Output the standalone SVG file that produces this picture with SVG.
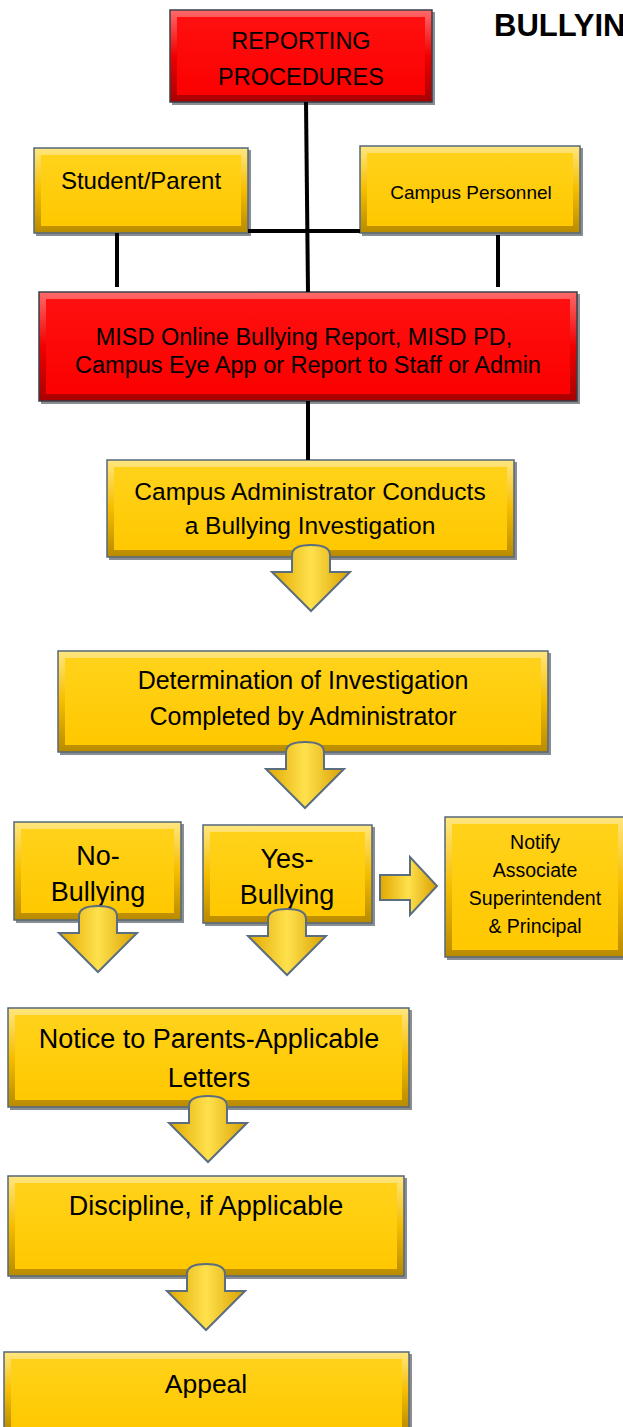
<svg xmlns="http://www.w3.org/2000/svg" width="623" height="1427" viewBox="0 0 623 1427">
<style>
text{font-family:"Liberation Sans",Arial,sans-serif;fill:#000;text-anchor:middle}
.sh{fill:#2a2f36;opacity:.55}
.go{fill:url(#gOut);stroke:#56687a;stroke-width:1.5}
.gi{fill:url(#gIn)}
.ro{fill:url(#rOut);stroke:#3a3f48;stroke-width:1.5}
.ri{fill:url(#rIn)}
.ln{stroke:#000;stroke-width:4;fill:none}
.ar{fill:url(#aG);stroke:#5b6e80;stroke-width:2;stroke-linejoin:miter}
</style>
<defs>
<linearGradient id="gOut" x1="0" y1="0" x2="0" y2="1"><stop offset="0" stop-color="#ffe680"/><stop offset="0.5" stop-color="#f5bd00"/><stop offset="1" stop-color="#b88a00"/></linearGradient>
<linearGradient id="gIn" x1="0" y1="0" x2="0" y2="1"><stop offset="0" stop-color="#ffd21a"/><stop offset="1" stop-color="#ffc800"/></linearGradient>
<linearGradient id="rOut" x1="0" y1="0" x2="0" y2="1"><stop offset="0" stop-color="#ff6a6a"/><stop offset="0.5" stop-color="#f00000"/><stop offset="1" stop-color="#a80000"/></linearGradient>
<linearGradient id="rIn" x1="0" y1="0" x2="0" y2="1"><stop offset="0" stop-color="#ff1010"/><stop offset="1" stop-color="#fb0000"/></linearGradient>
<linearGradient id="aG" x1="0" y1="0" x2="1" y2="0"><stop offset="0" stop-color="#e0a800"/><stop offset="0.5" stop-color="#ffe14d"/><stop offset="1" stop-color="#d9a000"/></linearGradient>
<path id="dn" d="M-19,10 Q-19,0 0,0 Q19,0 19,10 L19,27 L39,27 L0,66 L-39,27 L-19,27 Z"/>
</defs>

<text x="494" y="36" style="text-anchor:start;font-weight:bold;font-size:31px">BULLYING</text>

<g id="n-reporting">
<rect class="sh" x="172" y="12" width="263" height="93"/>
<rect class="ro" x="170" y="10" width="262" height="92"/>
<rect class="ri" x="177" y="17" width="248" height="78"/>
<text x="301" y="49" font-size="23.5">REPORTING</text>
<text x="301" y="85" font-size="23.5">PROCEDURES</text>
</g>

<g id="n-student">
<rect class="sh" x="36" y="150" width="215" height="86"/>
<rect class="go" x="34" y="148" width="214" height="85"/>
<rect class="gi" x="41" y="155" width="200" height="71"/>
<text x="141" y="189" font-size="24">Student/Parent</text>
</g>

<g id="n-personnel">
<rect class="sh" x="362" y="148" width="221" height="88"/>
<rect class="go" x="360" y="146" width="220" height="87"/>
<rect class="gi" x="367" y="153" width="206" height="73"/>
<text x="471" y="199" font-size="19">Campus Personnel</text>
</g>

<g id="n-misd">
<rect class="sh" x="41" y="294" width="539" height="110"/>
<rect class="ro" x="39" y="292" width="538" height="109"/>
<rect class="ri" x="46" y="299" width="524" height="95"/>
<text x="304" y="345" font-size="23.5">MISD Online Bullying Report, MISD PD,</text>
<text x="308" y="373" font-size="23.5">Campus Eye App or Report to Staff or Admin</text>
</g>

<g id="n-admin">
<rect class="sh" x="109" y="462" width="408" height="98"/>
<rect class="go" x="107" y="460" width="407" height="97"/>
<rect class="gi" x="114" y="467" width="393" height="83"/>
<text x="310" y="500" font-size="24.5">Campus Administrator Conducts</text>
<text x="310" y="534" font-size="24.5">a Bullying Investigation</text>
</g>

<g id="n-determination">
<rect class="sh" x="60" y="653" width="491" height="102"/>
<rect class="go" x="58" y="651" width="490" height="101"/>
<rect class="gi" x="65" y="658" width="476" height="87"/>
<text x="303" y="689" font-size="25">Determination of Investigation</text>
<text x="303" y="725" font-size="25">Completed by Administrator</text>
</g>

<g id="n-no">
<rect class="sh" x="16" y="824" width="168" height="99"/>
<rect class="go" x="14" y="822" width="167" height="98"/>
<rect class="gi" x="21" y="829" width="153" height="84"/>
<text x="98" y="865" font-size="27">No-</text>
<text x="98" y="901" font-size="27">Bullying</text>
</g>

<g id="n-yes">
<rect class="sh" x="205" y="827" width="170" height="99"/>
<rect class="go" x="203" y="825" width="169" height="98"/>
<rect class="gi" x="210" y="832" width="155" height="84"/>
<text x="287" y="868" font-size="27">Yes-</text>
<text x="287" y="904" font-size="27">Bullying</text>
</g>

<g id="n-notify">
<rect class="sh" x="447" y="819" width="178" height="141"/>
<rect class="go" x="445" y="817" width="180" height="140"/>
<rect class="gi" x="452" y="824" width="166" height="126"/>
<text x="535" y="849" font-size="19.5">Notify</text>
<text x="535" y="877" font-size="19.5">Associate</text>
<text x="535" y="905" font-size="19.5">Superintendent</text>
<text x="535" y="933" font-size="19.5">&amp; Principal</text>
</g>

<g id="n-notice">
<rect class="sh" x="10" y="1010" width="402" height="100"/>
<rect class="go" x="8" y="1008" width="401" height="99"/>
<rect class="gi" x="15" y="1015" width="387" height="85"/>
<text x="209" y="1048" font-size="27">Notice to Parents-Applicable</text>
<text x="209" y="1087" font-size="27">Letters</text>
</g>

<g id="n-discipline">
<rect class="sh" x="10" y="1178" width="397" height="101"/>
<rect class="go" x="8" y="1176" width="396" height="100"/>
<rect class="gi" x="15" y="1183" width="382" height="86"/>
<text x="206" y="1215" font-size="27">Discipline, if Applicable</text>
</g>

<g id="n-appeal">
<rect class="sh" x="6" y="1354" width="406" height="80"/>
<rect class="go" x="4" y="1352" width="405" height="80"/>
<rect class="gi" x="11" y="1359" width="391" height="70"/>
<text x="206" y="1393" font-size="26.5">Appeal</text>
</g>

<g id="connectors">
<path class="ln" d="M306,102 L308,292"/>
<path class="ln" d="M248,231 L360,231"/>
<path class="ln" d="M117,233 L117,287"/>
<path class="ln" d="M498,235 L498,287"/>
<path class="ln" d="M308,401 L308,460"/>
<use href="#dn" class="ar" transform="translate(311,545)"/>
<use href="#dn" class="ar" transform="translate(305,742)"/>
<use href="#dn" class="ar" transform="translate(98,906)"/>
<use href="#dn" class="ar" transform="translate(287,909)"/>
<use href="#dn" class="ar" transform="translate(208,1096)"/>
<use href="#dn" class="ar" transform="translate(206,1264)"/>
<path class="ar" d="M380,875 L410,875 L410,857 L437,886 L410,915 L410,900 L380,900 Z"/>
</g>
</svg>
